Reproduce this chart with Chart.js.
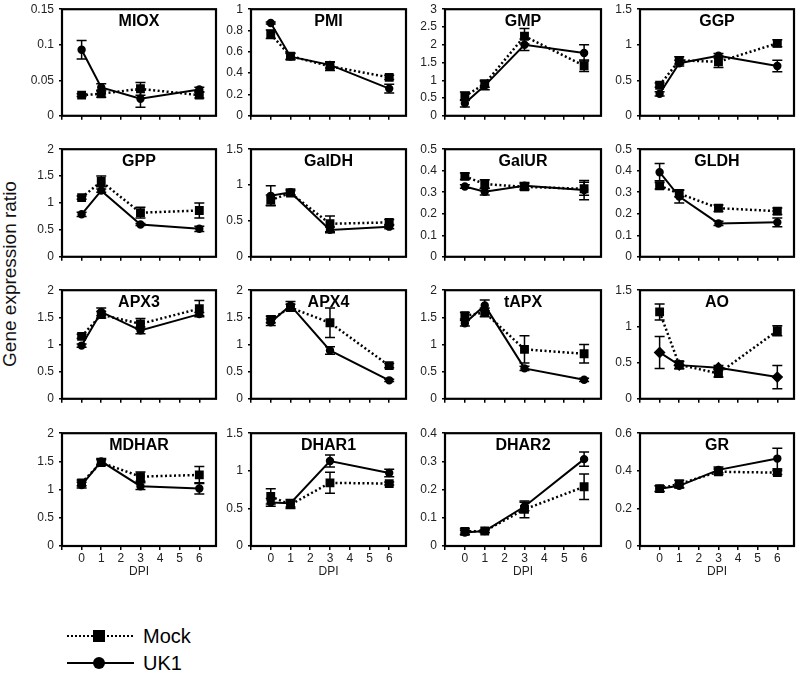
<!DOCTYPE html>
<html>
<head>
<meta charset="utf-8">
<script src="https://cdn.jsdelivr.net/npm/chart.js@4"></script>
<style>
  body { margin: 0; background: #fff; font-family: "Liberation Sans", Arial, sans-serif; }
  #wrap { position: relative; width: 800px; height: 673px; overflow: hidden; }
  canvas { position: absolute; }
  #ylab { position: absolute; left: 10px; top: 274px; font-size: 19px; color: #111;
          transform: translate(-50%, -50%) rotate(-90deg); white-space: nowrap; }
  .leg { position: absolute; left: 64px; height: 24px; font-size: 20px; color: #000; }
  .leg svg { position: absolute; left: 0; top: 0; }
  .leg span { position: absolute; left: 79px; top: 0; line-height: 24px; }
</style>
</head>
<body>
<div id="wrap">
  <div id="ylab">Gene expression ratio</div>
  <div class="leg" style="top:624px">
    <svg width="74" height="24"><line x1="3" y1="12" x2="70" y2="12" stroke="#000" stroke-width="2.2" stroke-dasharray="2,2"/><rect x="29" y="6" width="12" height="12" fill="#000"/></svg>
    <span>Mock</span>
  </div>
  <div class="leg" style="top:651px">
    <svg width="74" height="24"><line x1="3" y1="12" x2="70" y2="12" stroke="#000" stroke-width="2.2"/><circle cx="35" cy="12" r="6" fill="#000"/></svg>
    <span>UK1</span>
  </div>
</div>
<script>
const genes = ["MIOX", "PMI", "GMP", "GGP", "GPP", "GalDH", "GalUR", "GLDH",
               "APX3", "APX4", "tAPX", "AO", "MDHAR", "DHAR1", "DHAR2", "GR"];
const dpi = [0, 1, 3, 6];
const xTicks = [-1, 0, 1, 2, 3, 4, 5, 6];
const yMax  = [0.15, 1, 3, 1.5, 2, 1.5, 0.5, 0.5, 2, 2, 2, 1.5, 2, 1.5, 0.4, 0.6];
const yStep = [0.05, 0.2, 0.5, 0.5, 0.5, 0.5, 0.1, 0.1, 0.5, 0.5, 0.5, 0.5, 0.5, 0.5, 0.1, 0.2];

const mockMean = [
  [0.029, 0.031, 0.038, 0.029], [0.765, 0.56, 0.465, 0.36], [0.55, 0.9, 2.24, 1.41], [0.43, 0.78, 0.76, 1.02],
  [1.1, 1.4, 0.82, 0.86], [0.79, 0.89, 0.46, 0.48], [0.374, 0.338, 0.325, 0.316], [0.33, 0.294, 0.226, 0.212],
  [1.15, 1.55, 1.38, 1.66], [1.46, 1.68, 1.4, 0.61], [1.53, 1.59, 0.91, 0.83], [1.2, 0.47, 0.35, 0.94],
  [1.12, 1.48, 1.23, 1.26], [0.66, 0.55, 0.84, 0.83], [0.052, 0.053, 0.13, 0.21], [0.305, 0.33, 0.395, 0.39]
];
const mockErr = [
  [0.002, 0.005, 0.009, 0.004], [0.04, 0.03, 0.04, 0.02], [0.12, 0.1, 0.22, 0.16], [0.03, 0.05, 0.08, 0.05],
  [0.03, 0.1, 0.1, 0.14], [0.07, 0.03, 0.11, 0.04], [0.015, 0.02, 0.015, 0.03], [0.015, 0.015, 0.015, 0.015],
  [0.04, 0.06, 0.1, 0.15], [0.06, 0.06, 0.27, 0.04], [0.06, 0.08, 0.25, 0.17], [0.11, 0.05, 0.05, 0.07],
  [0.05, 0.05, 0.08, 0.15], [0.1, 0.05, 0.14, 0.02], [0.01, 0.005, 0.03, 0.045], [0.015, 0.02, 0.015, 0.01]
];
const uk1Mean = [
  [0.093, 0.04, 0.024, 0.037], [0.87, 0.555, 0.478, 0.255], [0.35, 0.85, 2.0, 1.77], [0.31, 0.74, 0.845, 0.7],
  [0.79, 1.23, 0.6, 0.52], [0.85, 0.9, 0.375, 0.42], [0.327, 0.302, 0.33, 0.31], [0.393, 0.28, 0.155, 0.16],
  [0.98, 1.6, 1.26, 1.56], [1.41, 1.72, 0.89, 0.34], [1.39, 1.72, 0.56, 0.35], [0.64, 0.465, 0.43, 0.3],
  [1.08, 1.5, 1.06, 1.02], [0.58, 0.57, 1.13, 0.97], [0.048, 0.053, 0.14, 0.308], [0.305, 0.32, 0.405, 0.465]
];
const uk1Err = [
  [0.013, 0.005, 0.012, 0.003], [0.01, 0.03, 0.03, 0.04], [0.1, 0.12, 0.16, 0.23], [0.03, 0.04, 0.03, 0.08],
  [0.04, 0.03, 0.02, 0.05], [0.14, 0.04, 0.04, 0.03], [0.008, 0.015, 0.015, 0.045], [0.04, 0.03, 0.01, 0.02],
  [0.03, 0.07, 0.06, 0.03], [0.06, 0.07, 0.07, 0.02], [0.05, 0.1, 0.04, 0.03], [0.22, 0.05, 0.03, 0.16],
  [0.05, 0.05, 0.06, 0.1], [0.05, 0.05, 0.08, 0.05], [0.008, 0.005, 0.015, 0.025], [0.015, 0.01, 0.015, 0.055]
];

// plot box positions in the page
const colLeft = [62, 251, 445, 640];
const colRight = [219, 409, 604, 797];
const rowTop = [5, 145, 286, 429];
const rowBottom = [120, 261, 403, 546];
const AXIS_W = 50;

const panelPlugin = {
  id: "panel",
  beforeDatasetsDraw(chart) {
    const a = chart.chartArea, ctx = chart.ctx;
    ctx.save();
    ctx.strokeStyle = "#000";
    ctx.lineWidth = 2.2;
    ctx.strokeRect(a.left, a.top, a.right - a.left, a.bottom - a.top);
    ctx.restore();
  },
  afterDatasetsDraw(chart) {
    const ctx = chart.ctx, ys = chart.scales.y;
    ctx.save();
    ctx.strokeStyle = "#000";
    ctx.lineWidth = 1.5;
    chart.data.datasets.forEach((ds, k) => {
      const meta = chart.getDatasetMeta(k);
      ds.data.forEach((p, j) => {
        const e = ds.errs[j];
        const x = meta.data[j].x;
        const y1 = ys.getPixelForValue(p.y + e), y2 = ys.getPixelForValue(p.y - e);
        ctx.beginPath();
        ctx.moveTo(x, y1); ctx.lineTo(x, y2);
        ctx.moveTo(x - 5, y1); ctx.lineTo(x + 5, y1);
        ctx.moveTo(x - 5, y2); ctx.lineTo(x + 5, y2);
        ctx.stroke();
      });
    });
    ctx.restore();
  },
  afterDraw(chart) {
    const a = chart.chartArea, ctx = chart.ctx;
    ctx.save();
    ctx.fillStyle = "#000";
    ctx.font = "bold 16px 'Liberation Sans', Arial, sans-serif";
    ctx.textAlign = "center";
    ctx.textBaseline = "alphabetic";
    ctx.fillText(chart.options.plugins.panel.title, (a.left + a.right) / 2, a.top + 17);
    ctx.restore();
  }
};

const wrap = document.getElementById("wrap");
const tickFont = { family: "'Liberation Sans', Arial, sans-serif", size: 12 };

genes.forEach((gene, i) => {
  const r = Math.floor(i / 4), c = i % 4;
  const last = r === 3;
  const xh = last ? 33 : 8;
  const cv = document.createElement("canvas");
  const w = colRight[c] - colLeft[c] + AXIS_W + 4;
  const h = 8 + (rowBottom[r] - rowTop[r]) + xh;
  cv.width = w; cv.height = h;
  cv.style.left = (colLeft[c] - AXIS_W) + "px";
  cv.style.top = (rowTop[r] - 8) + "px";
  cv.style.width = w + "px"; cv.style.height = h + "px";
  wrap.appendChild(cv);

  new Chart(cv.getContext("2d"), {
    type: "line",
    data: {
      datasets: [
        {
          label: "Mock",
          data: dpi.map((d, j) => ({ x: d, y: mockMean[i][j] })),
          errs: mockErr[i],
          borderColor: "#000",
          backgroundColor: "#000",
          borderWidth: 2.5,
          borderDash: [2, 2.5],
          pointStyle: "rect",
          pointRadius: 4.5,
          pointHoverRadius: 4.5
        },
        {
          label: "UK1",
          data: dpi.map((d, j) => ({ x: d, y: uk1Mean[i][j] })),
          errs: uk1Err[i],
          borderColor: "#000",
          backgroundColor: "#000",
          borderWidth: 2,
          pointStyle: gene === "AO" ? "rectRot" : "circle",
          pointRadius: gene === "AO" ? 4.5 : 3.2,
          pointHoverRadius: 3.2
        }
      ]
    },
    options: {
      responsive: false,
      animation: false,
      devicePixelRatio: 1,
      layout: { padding: { left: 0, right: 4, top: 8, bottom: 0 } },
      plugins: {
        legend: { display: false },
        tooltip: { enabled: false },
        panel: { title: gene }
      },
      scales: {
        x: {
          type: "linear",
          min: -1,
          max: 6.85,
          afterBuildTicks: s => { s.ticks = xTicks.map(v => ({ value: v })); },
          afterFit: s => { s.height = xh; },
          border: { display: false },
          grid: { drawOnChartArea: false, drawTicks: true, tickLength: 4, color: "#000", lineWidth: 1.5 },
          ticks: {
            display: last,
            autoSkip: false,
            maxRotation: 0,
            padding: 1,
            color: "#222",
            font: tickFont,
            callback: v => (v < 0 ? "" : v)
          },
          title: { display: last, text: "DPI", color: "#222", font: tickFont, padding: 0 }
        },
        y: {
          min: 0,
          max: yMax[i],
          afterFit: s => { s.width = AXIS_W; },
          border: { display: false },
          grid: { drawOnChartArea: false, drawTicks: true, tickLength: 3, color: "#000", lineWidth: 1.5 },
          ticks: {
            stepSize: yStep[i],
            padding: 5,
            color: "#222",
            font: tickFont,
            callback: v => String(+v.toFixed(2))
          }
        }
      }
    },
    plugins: [panelPlugin]
  });
});
</script>
</body>
</html>
